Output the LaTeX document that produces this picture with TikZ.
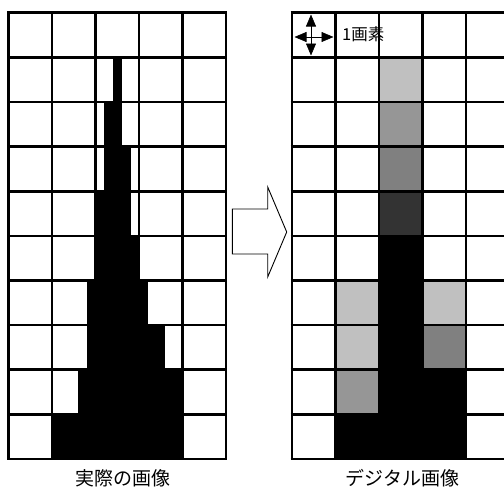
\documentclass[tikz,border=0pt]{standalone}
\usepackage{fontspec}
\newfontfamily\jp{Noto Sans CJK JP}
\usetikzlibrary{arrows.meta}
\definecolor{gA}{HTML}{C0C0C0}
\definecolor{gB}{HTML}{969696}
\definecolor{gC}{HTML}{808080}
\definecolor{gD}{HTML}{333333}
\tikzset{
  gridline/.style={line width=2.6pt, black},
  blockarrow/.style={draw=black, line width=0.9pt, fill=white},
  dblarrow/.style={line width=0.6pt, {Triangle[length=12pt,width=10pt]}-{Triangle[length=12pt,width=10pt]}},
  label/.style={font=\jp\fontsize{19}{19}\selectfont, inner sep=0pt},
}
\begin{document}
\begin{tikzpicture}[x=1pt,y=-1pt]
\useasboundingbox (0,0) rectangle (504,490);
\clip (0,0) rectangle (504,490);
% ---------- left grid: real image ----------
\def\cw{43.5}\def\rh{44.63}
\def\lx{8.5}\def\ty{12.7}
% black shape rows (x ranges)
\foreach \r/\a/\b in {1/113.3/121.7, 2/104.3/121.7, 3/104.3/130.7, 4/95.5/130.7, 5/95.5/139.5, 6/87.3/147.7, 7/87.3/165, 8/78.3/182.7, 9/51.7/182.7}{
  \fill[black] (\a,{\ty+\r*\rh}) rectangle (\b,{\ty+(\r+1)*\rh});
}
\foreach \i in {0,...,5}{
  \draw[gridline] ({\lx+\i*\cw},\ty) -- ({\lx+\i*\cw},{\ty+10*\rh});
}
\foreach \j in {0,...,10}{
  \draw[gridline] (\lx-1.3,{\ty+\j*\rh}) -- ({\lx+5*\cw+1.3},{\ty+\j*\rh});
}
% ---------- right grid: digital image ----------
\def\rx{292}
\foreach \c/\r/\col in {2/1/gA, 2/2/gB, 2/3/gC, 2/4/gD, 2/5/black,
  1/6/gA, 2/6/black, 3/6/gA,
  1/7/gA, 2/7/black, 3/7/gC,
  1/8/gB, 2/8/black, 3/8/black,
  1/9/black, 2/9/black, 3/9/black}{
  \fill[\col] ({\rx+\c*\cw},{\ty+\r*\rh}) rectangle ({\rx+(\c+1)*\cw},{\ty+(\r+1)*\rh});
}
\foreach \i in {0,...,5}{
  \draw[gridline] ({\rx+\i*\cw},\ty) -- ({\rx+\i*\cw},{\ty+10*\rh});
}
\foreach \j in {0,...,10}{
  \draw[gridline] (\rx-1.3,{\ty+\j*\rh}) -- ({\rx+5*\cw+1.3},{\ty+\j*\rh});
}
% pixel size marker
\coordinate (hl) at (294.5,37);
\coordinate (hr) at (333.5,37);
\coordinate (vt) at (311,14.5);
\coordinate (vb) at (311,55.5);
\draw[dblarrow] (hl) -- (hr);
\draw[dblarrow] (vt) -- (vb);
\node[label, anchor=west, font=\jp\fontsize{16.5}{16.5}\selectfont] (pix) at (342,34.5) {1画素};
% ---------- block arrow ----------
\draw[blockarrow] (232.3,209) -- (267.7,209) -- (267.7,187) -- (286.7,232)
  -- (267.7,277) -- (267.7,254) -- (232.3,254) -- cycle;
% ---------- labels ----------
\node[label] (lreal) at (122.5,478) {実際の画像};
\node[label] (ldig) at (402.5,478) {デジタル画像};
\end{tikzpicture}
\end{document}
